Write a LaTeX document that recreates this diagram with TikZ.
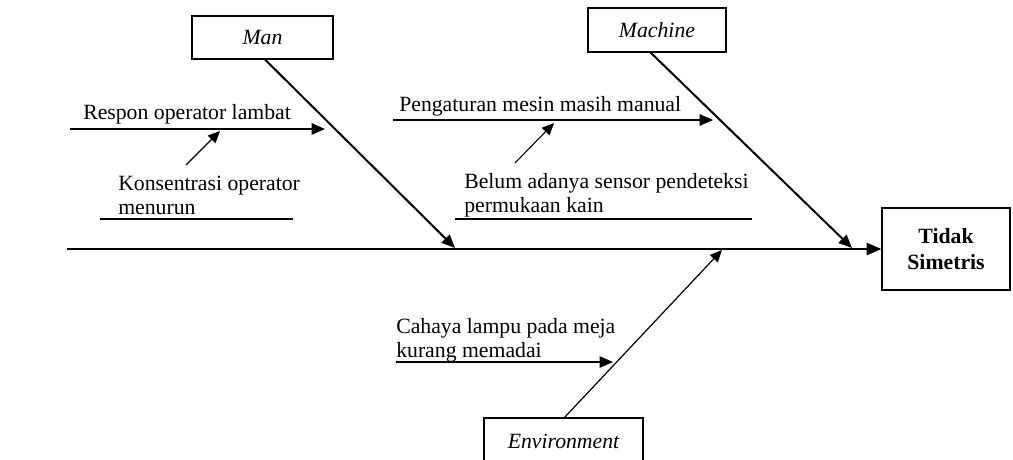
\documentclass[tikz,border=0pt]{standalone}
\usepackage{fontspec}
\setmainfont{Liberation Serif}
\usetikzlibrary{arrows.meta}
\begin{document}
\begin{tikzpicture}[x=0.75pt,y=-0.75pt,
  font=\fontsize{16.3}{18}\selectfont,
  catbox/.style={draw,line width=0.9pt,inner sep=0pt,font=\fontsize{16.3}{18}\selectfont\itshape},
  label/.style={anchor=base west,inner sep=0pt,align=left},
  bone/.style={line width=1.5pt,-{Triangle[length=10pt,width=8.5pt]}},
  cause/.style={line width=1.1pt,-{Triangle[length=10pt,width=8.5pt]}},
  thinarrow/.style={line width=0.8pt,-{Triangle[length=9pt,width=8pt]}},
  under/.style={line width=0.8pt}]
\useasboundingbox (0,0) rectangle (1013,460);
\clip (0,0) rectangle (1013,460);
% category boxes
\node[catbox,minimum width=141*0.75pt,minimum height=43*0.75pt] (man) at (262.5,37.5) {Man};
\node[catbox,minimum width=138*0.75pt,minimum height=44*0.75pt] (machine) at (657,30) {Machine};
\node[catbox,minimum width=159*0.75pt,minimum height=46*0.75pt] (env) at (563.5,441) {Environment};
\node[draw,line width=0.9pt,inner sep=0pt,align=center,font=\fontsize{16.3}{19}\selectfont\bfseries,
  minimum width=128*0.75pt,minimum height=82*0.75pt] (result) at (946,249) {Tidak\\Simetris};
% coordinates
\coordinate (spineL) at (67,249);
\coordinate (manS) at (265,59.5);
\coordinate (manT) at (455,248);
\coordinate (machS) at (650,52);
\coordinate (machT) at (852,248);
\coordinate (envS) at (564,418);
\coordinate (envT) at (722,250);
% spine and bones
\draw[line width=1.9pt,-{Triangle[length=11pt,width=9pt]}] (spineL) -- (result.west);
\draw[bone] (manS) -- (manT);
\draw[bone] (machS) -- (machT);
\draw[thinarrow,line width=0.9pt] (envS) -- (envT);
% Man causes
\node[label] (respon) at (83,119) {Respon operator lambat};
\coordinate (resL) at (70,129);
\coordinate (resR) at (325,129);
\draw[cause] (resL) -- (resR);
\node[label] (konsen) at (118,214) {Konsentrasi operator\\menurun};
\coordinate (konL) at (100,219);
\coordinate (konR) at (293,219);
\draw[under] (konL) -- (konR);
\coordinate (konA) at (186,165);
\coordinate (konB) at (220,131);
\draw[thinarrow] (konA) -- (konB);
% Machine causes
\node[label] (peng) at (399,111) {Pengaturan mesin masih manual};
\coordinate (pengL) at (393,120);
\coordinate (pengR) at (713,120);
\draw[cause] (pengL) -- (pengR);
\node[label] (belum) at (464,212) {Belum adanya sensor pendeteksi\\permukaan kain};
\coordinate (belL) at (455,219);
\coordinate (belR) at (752,219);
\draw[under] (belL) -- (belR);
\coordinate (belA) at (515,163);
\coordinate (belB) at (554,123);
\draw[thinarrow] (belA) -- (belB);
% Environment cause
\node[label] (cahaya) at (396,357) {Cahaya lampu pada meja\\kurang memadai};
\coordinate (cahL) at (396,362);
\coordinate (cahR) at (613,362);
\draw[cause] (cahL) -- (cahR);
\end{tikzpicture}
\end{document}
